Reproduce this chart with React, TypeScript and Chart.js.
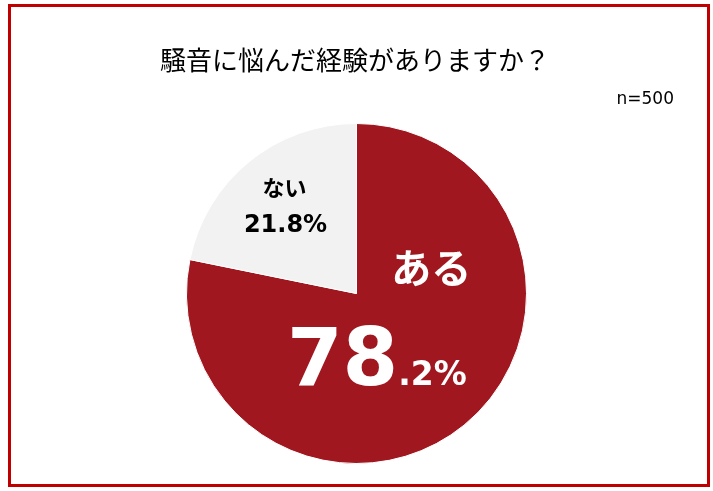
import React, { useEffect, useRef } from "react";
import { Chart, registerables } from "chart.js";

Chart.register(...registerables);

const titleText = "騒音に悩んだ経験がありますか？";
const sampleText = "n=500";
const categories = ["ある", "ない"];
const values = [78.2, 21.8];

const RED = "#A1171F";
const GRAY = "#F2F2F2";

const labelPlugin = {
  id: "sliceLabels",
  afterDraw(chart: any) {
    const ctx = chart.ctx as CanvasRenderingContext2D;
    const meta = chart.getDatasetMeta(0);
    ctx.save();

    // title
    ctx.fillStyle = "#000";
    ctx.textAlign = "center";
    ctx.textBaseline = "middle";
    ctx.font = '400 26px "Noto Sans CJK JP"';
    ctx.fillText(titleText, 355, 60);

    // sample size
    ctx.textAlign = "right";
    ctx.font = '17px "DejaVu Sans"';
    ctx.fillText(sampleText, 674, 100);

    // big slice (ある)
    const a0 = meta.data[0];
    if (a0) {
      const { x, y, outerRadius: R } = a0.getProps(["x", "y", "outerRadius"], true);
      ctx.fillStyle = "#fff";
      ctx.textAlign = "center";
      ctx.textBaseline = "middle";
      ctx.font = 'bold 40px "Noto Sans CJK JP"';
      ctx.fillText(categories[0], x + 0.44 * R, y - 0.15 * R);

      const str = values[0].toFixed(1);
      const dot = str.indexOf(".");
      const big = str.slice(0, dot);
      const small = str.slice(dot) + "%";
      const bigFont = 'bold 80px "DejaVu Sans"';
      const smallFont = 'bold 33px "DejaVu Sans"';
      ctx.font = bigFont;
      const wb = ctx.measureText(big).width;
      ctx.font = smallFont;
      const ws = ctx.measureText(small).width;
      const total = wb + ws;
      const cx = x + 0.12 * R;
      const baseY = y + 0.54 * R;
      ctx.textAlign = "left";
      ctx.textBaseline = "alphabetic";
      ctx.font = bigFont;
      ctx.fillText(big, cx - total / 2, baseY);
      ctx.font = smallFont;
      ctx.fillText(small, cx - total / 2 + wb, baseY);
    }

    // small slice (ない)
    const a1 = meta.data[1];
    if (a1) {
      const { x, y, startAngle, endAngle, outerRadius: R } = a1.getProps(
        ["x", "y", "startAngle", "endAngle", "outerRadius"],
        true
      );
      const mid = (startAngle + endAngle) / 2;
      const px = x + Math.cos(mid) * R * 0.66;
      const py = y + Math.sin(mid) * R * 0.66;
      ctx.fillStyle = "#000";
      ctx.textAlign = "center";
      ctx.textBaseline = "middle";
      ctx.font = 'bold 22px "Noto Sans CJK JP"';
      ctx.fillText(categories[1], px - 1, py - 19);
      ctx.font = 'bold 24px "DejaVu Sans"';
      ctx.fillText(values[1].toFixed(1) + "%", px, py + 19);
    }
    ctx.restore();
  },
};

export default function App() {
  const ref = useRef<HTMLCanvasElement | null>(null);

  useEffect(() => {
    document.body.style.margin = "0";
    const canvas = ref.current;
    if (!canvas) return;
    const chart = new Chart(canvas, {
      type: "pie",
      data: {
        labels: categories,
        datasets: [
          {
            data: values,
            backgroundColor: [RED, GRAY],
            borderColor: "#ffffff",
            borderWidth: 1,
          },
        ],
      },
      options: {
        responsive: false,
        animation: false,
        layout: { padding: { top: 123, bottom: 27, left: 0, right: 0 } },
        plugins: {
          legend: { display: false },
          tooltip: { enabled: false },
          title: { display: false },
        },
      },
      plugins: [labelPlugin],
    });
    return () => chart.destroy();
  }, []);

  return (
    <div
      style={{
        position: "fixed",
        left: 0,
        top: 0,
        width: 713,
        height: 491,
        background: "#fff",
      }}
    >
      <canvas ref={ref} width={713} height={491} style={{ position: "absolute", left: 0, top: 0 }} />
      <div
        style={{
          position: "absolute",
          left: 8,
          top: 4,
          width: 702,
          height: 483,
          border: "3px solid #C00000",
          boxSizing: "border-box",
          pointerEvents: "none",
        }}
      />
    </div>
  );
}
